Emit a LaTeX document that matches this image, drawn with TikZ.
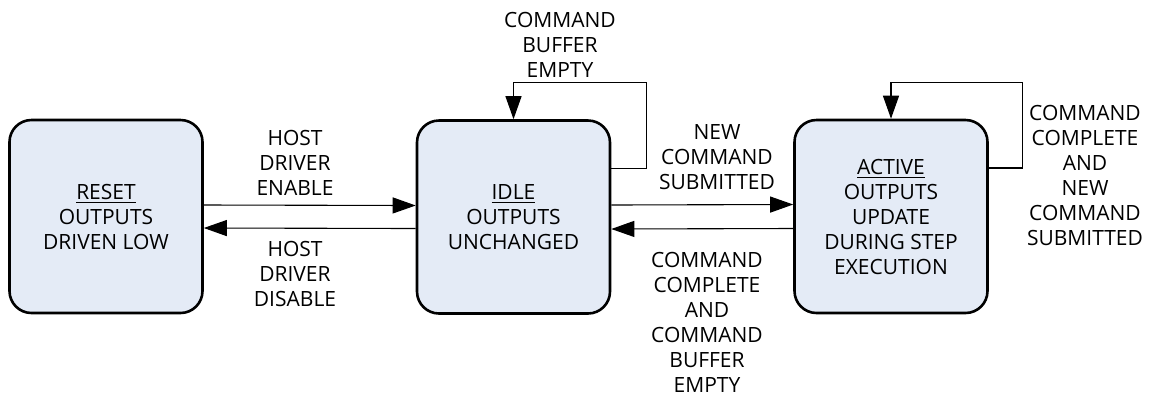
\documentclass[tikz,border=0pt]{standalone}
\usepackage{fontspec}
\setmainfont{Open Sans}
\usetikzlibrary{arrows.meta,positioning}
\definecolor{sblue}{RGB}{228,235,246}

\begin{document}
\begin{tikzpicture}[x=0.5pt,y=-0.5pt,
    state/.style={draw,line width=1.3pt,fill=sblue,rounded corners=11pt,
        minimum width=96.5pt,minimum height=96.5pt,inner sep=0pt,align=center,
        font=\fontsize{10.5}{12.5}\selectfont},
    lbl/.style={align=center,inner sep=0pt,font=\fontsize{10.5}{12.5}\selectfont},
    conn/.style={line width=0.55pt,-{Triangle[length=11.5pt,width=8pt]}}]
\useasboundingbox (0,0) rectangle (1151,398);
% states
\node[state] (reset) at (106,216.5) {\underline{RESET}\\OUTPUTS\\DRIVEN LOW};
\node[state] (idle) at (513.5,217) {\underline{IDLE}\\OUTPUTS\\UNCHANGED};
\node[state] (active) at (891,216.5) {\underline{ACTIVE}\\OUTPUTS\\UPDATE\\DURING STEP\\EXECUTION};
% transitions
\draw[conn] ([yshift=5.75pt]reset.east) -- ([yshift=5.75pt]idle.west);
\draw[conn] ([yshift=-5.75pt]idle.west) -- ([yshift=-5.75pt]reset.east);
\draw[conn] ([yshift=6pt]idle.east) -- ([yshift=6pt]active.west);
\draw[conn] ([yshift=-6pt]active.west) -- ([yshift=-6pt]idle.east);
\draw[conn] ([yshift=24.25pt]idle.east) -- ++(35,0) |- ([yshift=18.5pt]idle.north) -- (idle.north);
\draw[conn] ([yshift=24.25pt]active.east) -- ++(34,0) |- ([yshift=18pt]active.north) -- (active.north);
% labels
\node[lbl] (enlbl) at (295,163) {HOST\\DRIVER\\ENABLE};
\node[lbl] (dislbl) at (295,274) {HOST\\DRIVER\\DISABLE};
\node[lbl] (emptylbl) at (560,45) {COMMAND\\BUFFER\\EMPTY};
\node[lbl] (newlbl) at (717,157) {NEW\\COMMAND\\SUBMITTED};
\node[lbl] (donelbl) at (707,322) {COMMAND\\COMPLETE\\AND\\COMMAND\\BUFFER\\EMPTY};
\node[lbl] (againlbl) at (1085,175) {COMMAND\\COMPLETE\\AND\\NEW\\COMMAND\\SUBMITTED};
\end{tikzpicture}
\end{document}
